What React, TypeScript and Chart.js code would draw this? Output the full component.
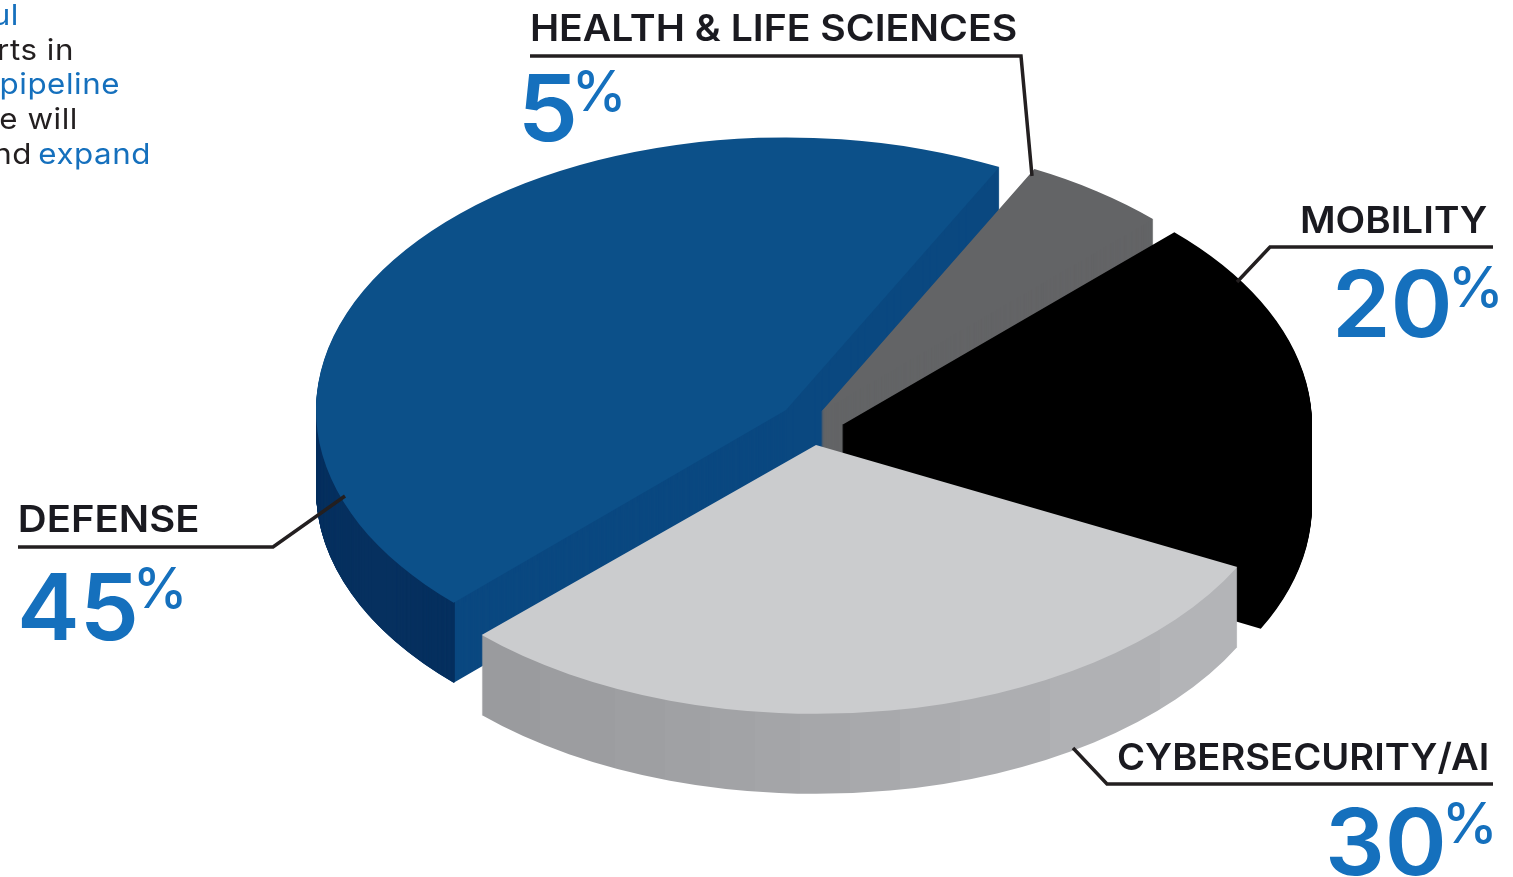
import React, { useEffect, useRef } from "react";
import { Chart, registerables } from "chart.js";

Chart.register(...registerables);

// ---------- data ----------
const categories = ["DEFENSE", "HEALTH & LIFE SCIENCES", "MOBILITY", "CYBERSECURITY/AI"];
const shares = [45, 5, 20, 30];

// ---------- slice styling ----------
const topColors = ["#0c5089", "#636466", "#000000", "#cbccce"];
const faceColors = ["#0a4880", "#636466", "#000000", "#a6a7aa"];
const wallColors = ["#06305f", null, null, null];
const explodeX = [-26, 9, 30, 4];
const explodeY = [-15, -13, 0, 20];
const squash = [0.58, 0.58, 0.58, 0.572];
const stretch = [1, 1, 1, 1.006];
const PIE_CX = 812;
const PIE_CY = 425;
const DEPTH = 80;
const RADIUS = 470;

// stepped shading of the cybersecurity wall (screen x, grey level)
const wallBandX = [483, 540, 615, 665, 710, 755, 800, 850, 900, 960, 1050, 1160, 1237];
const wallBandGrey = [154, 156, 158, 160, 162, 164, 166, 168, 171, 173, 176, 179];

// ---------- text layout ----------
const labelBox = [
  { x: 20, base: 532, w: 178 },
  { x: 532, base: 41, w: 484 },
  { x: 1302, base: 233, w: 185 },
  { x: 1118, base: 770, w: 369 },
];
const numberBox = [
  { x: 21, base: 640, w: 114, px: 138, pbase: 608, pw: 44 },
  { x: 524, base: 141, w: 50, px: 577, pbase: 111, pw: 44 },
  { x: 1337, base: 337, w: 112, px: 1453, pbase: 307, pw: 45 },
  { x: 1329, base: 875, w: 114, px: 1447, pbase: 843, pw: 45 },
];
const leaders = [
  [[18, 547], [273, 547], [345, 496]],
  [[530, 56], [1021, 56], [1032, 176]],
  [[1493, 247], [1270, 247], [1237, 282]],
  [[1493, 784], [1107, 784], [1073, 748]],
];
const introLines = [
  { text: "ul", right: 19, base: 25, color: "#1570bd" },
  { text: "rts in", right: 74, base: 60, color: "#231f20" },
  { text: "pipeline", right: 120, base: 94, color: "#1570bd" },
  { text: "ve will", right: 78, base: 129, color: "#231f20" },
  { text: "nd", right: 32, base: 164, color: "#231f20" },
  { text: "expand", right: 151, base: 164, color: "#1570bd" },
];
const INTRO_STRETCH = 1.08;

const FONT = "Inter, 'Noto Sans', sans-serif";

// Draws text so that its ink spans exactly w pixels from x, stretching the glyphs.
function fit(ctx: any, text: string, x: number, base: number, w: number, font: string, color: string) {
  ctx.font = font;
  ctx.fillStyle = color;
  ctx.textAlign = "left";
  ctx.textBaseline = "alphabetic";
  const m = ctx.measureText(text);
  const ink = m.actualBoundingBoxLeft + m.actualBoundingBoxRight;
  ctx.save();
  ctx.translate(x, base);
  ctx.scale(w / ink, 1);
  ctx.fillText(text, m.actualBoundingBoxLeft, 0);
  ctx.restore();
}

const pie3d = {
  id: "pie3d",
  beforeDatasetsDraw(chart: any) {
    const ctx = chart.ctx;
    const els = chart.getDatasetMeta(0).data;
    els.forEach((el: any, i: number) => {
      const base = el.options;
      const tx = PIE_CX + explodeX[i];
      const ty = PIE_CY + explodeY[i];
      const at = (depth: number, color: any) => {
        ctx.save();
        ctx.translate(tx, ty + depth);
        ctx.scale(stretch[i], squash[i]);
        ctx.translate(-el.x, -el.y);
        el.options = { ...base, backgroundColor: color, borderWidth: 0 };
        el.draw(ctx);
        ctx.restore();
      };
      let face: any = faceColors[i];
      if (i === 3) {
        const localX = (sx: number) => (sx - tx) / stretch[i] + el.x;
        const first = wallBandX[0];
        const span = wallBandX[wallBandX.length - 1] - first;
        const g = ctx.createLinearGradient(localX(first), 0, localX(first + span), 0);
        wallBandGrey.forEach((v, k) => {
          const c = `rgb(${v},${v + 1},${v + 4})`;
          g.addColorStop((wallBandX[k] - first) / span, c);
          g.addColorStop((wallBandX[k + 1] - first) / span, c);
        });
        face = g;
      }
      for (let d = DEPTH; d > 0; d -= 1) at(d, face);
      const wall = wallColors[i];
      if (wall) {
        const { innerRadius, endAngle, circumference, startAngle, outerRadius } = el;
        const stop = Math.min(endAngle, Math.PI);
        el.innerRadius = outerRadius - 2;
        el.endAngle = stop;
        el.circumference = stop - startAngle;
        for (let d = DEPTH; d >= 0; d -= 0.5) at(d, wall);
        el.innerRadius = innerRadius;
        el.endAngle = endAngle;
        el.circumference = circumference;
      }
      at(0, topColors[i]);
      el.options = base;
    });
    return false;
  },
  afterDraw(chart: any) {
    const ctx = chart.ctx;
    ctx.save();
    ctx.strokeStyle = "#231f20";
    ctx.lineWidth = 3.5;
    ctx.lineJoin = "miter";
    leaders.forEach((pts) => {
      ctx.beginPath();
      pts.forEach(([x, y], k) => (k ? ctx.lineTo(x, y) : ctx.moveTo(x, y)));
      ctx.stroke();
    });
    categories.forEach((name, i) => {
      const l = labelBox[i];
      fit(ctx, name, l.x, l.base, l.w, `600 37px ${FONT}`, "#1a1a20");
      const n = numberBox[i];
      fit(ctx, String(shares[i]), n.x, n.base, n.w, `600 92px ${FONT}`, "#1570bd");
      fit(ctx, "%", n.px, n.pbase, n.pw, `500 56px ${FONT}`, "#1570bd");
    });
    ctx.font = `400 29px ${FONT}`;
    ctx.textAlign = "right";
    ctx.letterSpacing = "0.5px";
    introLines.forEach((t) => {
      ctx.save();
      ctx.translate(t.right, t.base);
      ctx.scale(INTRO_STRETCH, 1);
      ctx.fillStyle = t.color;
      ctx.fillText(t.text, 0, 0);
      ctx.restore();
    });
    ctx.letterSpacing = "0px";
    ctx.restore();
  },
};

export default function App() {
  const ref = useRef<HTMLCanvasElement>(null);
  useEffect(() => {
    const chart = new Chart(ref.current as HTMLCanvasElement, {
      type: "pie",
      data: {
        labels: categories,
        datasets: [{ data: shares, backgroundColor: topColors, borderWidth: 0 }],
      },
      options: {
        animation: false,
        responsive: false,
        rotation: 225,
        radius: RADIUS,
        plugins: { legend: { display: false }, tooltip: { enabled: false } },
      },
      plugins: [pie3d],
    } as any);
    return () => chart.destroy();
  }, []);
  return (
    <canvas
      ref={ref}
      width={1513}
      height={877}
      style={{ position: "fixed", left: 0, top: 0, width: 1513, height: 877, display: "block" }}
    />
  );
}
